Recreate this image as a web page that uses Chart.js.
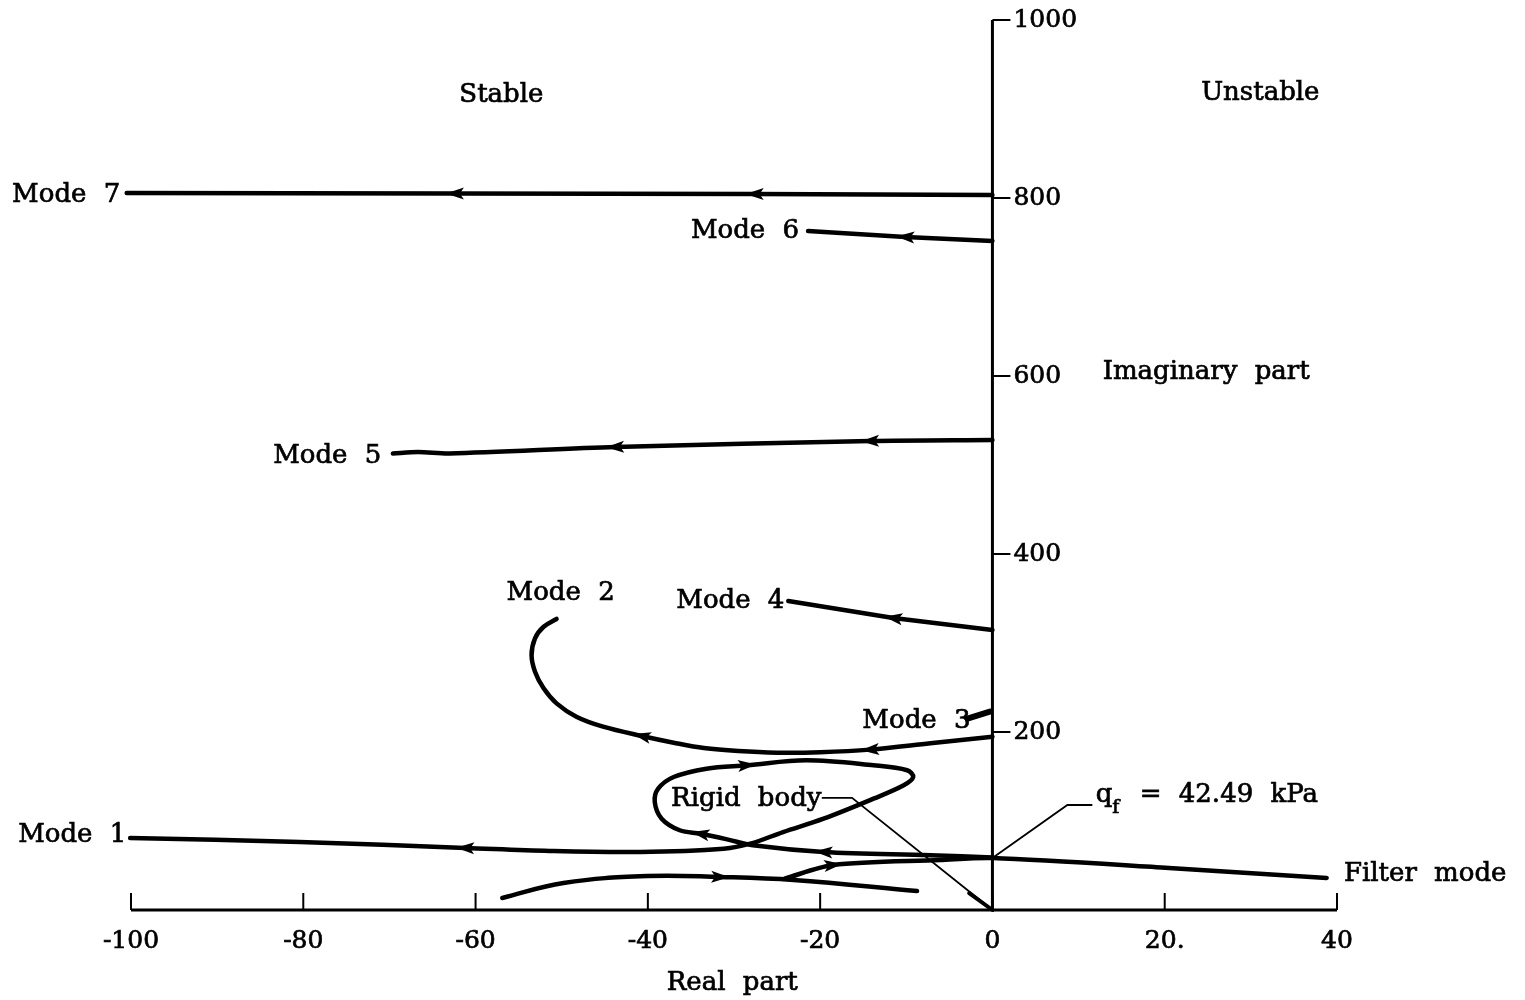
<!DOCTYPE html>
<html>
<head>
<meta charset="utf-8">
<script src="https://cdn.jsdelivr.net/npm/chart.js@4.4.1/dist/chart.umd.min.js"></script>
<style>
  html, body { margin: 0; padding: 0; background: #fff; }
  canvas { display: block; }
</style>
</head>
<body>
<canvas id="locus" width="1525" height="1000"></canvas>
<script>
// axis ticks
const xTicks = [-100, -80, -60, -40, -20, 0, 20, 40];
const xTickLabels = ['-100', '-80', '-60', '-40', '-20', '0', '20.', '40'];
const yTicks = [200, 400, 600, 800, 1000];
const yTickLabels = ['200', '400', '600', '800', '1000'];

// root loci, real part / imaginary part, ordered in the direction of travel
const mode7Re = [0, -27.6, -62.4, -100.5];
const mode7Im = [803.4, 804.5, 805.0, 805.6];
const mode6Re = [0, -10.1, -21.4];
const mode6Im = [751.7, 756.2, 762.9];
const mode5Re = [0, -14.2, -43.8, -63.0, -66.7, -69.6];
const mode5Im = [528.1, 527.0, 520.2, 513.0, 514.6, 512.8];
const mode4Re = [0, -11.5, -23.7];
const mode4Im = [314.6, 328.1, 347.2];
const mode3Re = [-0.3, -1.6, -2.9];
const mode3Im = [223, 219, 215];
const mode2Re = [0, -7.2, -14.2, -20.0, -25.0, -29.5, -33.5, -37.0, -40.7, -45.2, -48.3, -50.6, -52.1, -53.1, -53.5, -53.1, -52.1, -50.6];
const mode2Im = [194.7, 187.3, 180.2, 177.3, 176.8, 178.6, 182.0, 188.0, 195.5, 206.0, 217.2, 232.2, 249.1, 267.8, 286.5, 305.3, 318.3, 327.0];
const mode1Re = [0, -7.2, -19.6, -27.8, -30.8, -33.9, -36.3, -38.4, -39.2, -38.8, -37.0, -33.2, -28.5, -21.6,
                 -13.8, -9.9, -9.2, -10.3, -13.8, -19.6, -24.3, -28.1, -31.2, -40.9, -51.4, -61.2, -80.4, -100.1];
const mode1Im = [59.0, 61.5, 65.2, 72.7, 79.4, 85.7, 89.6, 102.6, 121.3, 136.3, 149.4, 158.8, 162.6, 168.2,
                 162.6, 157.0, 149.4, 140.1, 125.1, 102.6, 87.6, 74.5, 68.9, 65.2, 66.3, 69.7, 76.4, 80.9];
const lowRe = [-56.9, -49.8, -40.1, -31.6, -23.1, -8.75];
const lowIm = [13.5, 30.3, 38.2, 37.1, 33.7, 21.3];
const filterRe = [-24.2, -18.5, -6.1, 0, 20.5, 38.8];
const filterIm = [35.0, 50.6, 56.2, 58.4, 47.2, 36.0];
const rigidRe = [0, -2.7];
const rigidIm = [0, 19];

const FONT = '"DejaVu Serif", "Liberation Serif", serif';

function pts(re, im) {
    return re.map((r, i) => ({ x: r, y: im[i] }));
}

function locus(label, re, im, arrows, tension, width) {
    return {
        label: label,
        data: pts(re, im),
        showLine: true,
        borderColor: '#000',
        backgroundColor: '#000',
        borderWidth: width || 4.5,
        borderCapStyle: 'round',
        borderJoinStyle: 'round',
        pointRadius: 0,
        tension: tension || 0,
        clip: false,
        arrows: arrows
    };
}

// text placed in data units so it follows the scales
const notes = [
    { text: 'Stable', x: -57.0, y: 915, align: 'center' },
    { text: 'Unstable', x: 31.1, y: 918, align: 'center' },
    { text: 'Imaginary part', x: 12.8, y: 604, align: 'left' },
    { text: 'Real part', x: -30.2, y: -82, align: 'center' },
    { text: 'Mode 7', x: -113.8, y: 803, align: 'left' },
    { text: 'Mode 6', x: -35.0, y: 763, align: 'left' },
    { text: 'Mode 5', x: -83.5, y: 510, align: 'left' },
    { text: 'Mode 4', x: -36.7, y: 347, align: 'left' },
    { text: 'Mode 2', x: -56.4, y: 356, align: 'left' },
    { text: 'Mode 3', x: -15.1, y: 212, align: 'left' },
    { text: 'Rigid body', x: -37.3, y: 125, align: 'left' },
    { text: 'Mode 1', x: -113.1, y: 84, align: 'left' },
    { text: 'Filter mode', x: 40.8, y: 40, align: 'left' }
];

function inkText(c, s, x, y) {
    c.fillText(s, x, y);
    c.strokeText(s, x, y);
}

const axesPlugin = {
    id: 'axes',
    beforeDatasetsDraw(chart) {
        const c = chart.ctx, xs = chart.scales.x, ys = chart.scales.y;
        const x0 = xs.getPixelForValue(0), y0 = ys.getPixelForValue(0);
        c.save();
        c.strokeStyle = '#000';
        c.lineWidth = 3;
        c.beginPath();
        c.moveTo(xs.getPixelForValue(-100), y0);
        c.lineTo(xs.getPixelForValue(40), y0);
        c.moveTo(x0, y0);
        c.lineTo(x0, ys.getPixelForValue(1000));
        c.stroke();

        c.lineWidth = 2;
        c.beginPath();
        xTicks.forEach(v => {
            const px = xs.getPixelForValue(v);
            c.moveTo(px, y0);
            c.lineTo(px, y0 - 17);
        });
        yTicks.forEach(v => {
            const py = ys.getPixelForValue(v);
            c.moveTo(x0, py);
            c.lineTo(x0 + 18, py);
        });
        c.stroke();

        c.fillStyle = '#000';
        c.lineWidth = 0.7;
        c.font = '25px ' + FONT;
        c.textBaseline = 'middle';
        c.textAlign = 'center';
        xTicks.forEach((v, i) => inkText(c, xTickLabels[i], xs.getPixelForValue(v), y0 + 31));
        c.textAlign = 'left';
        yTicks.forEach((v, i) => inkText(c, yTickLabels[i], x0 + 21, ys.getPixelForValue(v)));
        c.restore();
    },
    afterDatasetsDraw(chart) {
        const c = chart.ctx, xs = chart.scales.x, ys = chart.scales.y;
        const X = v => xs.getPixelForValue(v), Y = v => ys.getPixelForValue(v);
        c.save();
        c.fillStyle = '#000';
        c.strokeStyle = '#000';

        // arrowheads along the loci
        chart.data.datasets.forEach((ds, i) => {
            if (!ds.arrows) return;
            const els = chart.getDatasetMeta(i).data;
            ds.arrows.forEach(k => {
                const p = els[k], a = els[k - 1], b = els[k + 1];
                let dx = b.x - a.x, dy = b.y - a.y;
                const len = Math.hypot(dx, dy);
                dx /= len; dy /= len;
                c.beginPath();
                c.moveTo(p.x + dx * 9, p.y + dy * 9);
                c.lineTo(p.x - dx * 9 - dy * 6, p.y - dy * 9 + dx * 6);
                c.lineTo(p.x - dx * 5, p.y - dy * 5);
                c.lineTo(p.x - dx * 9 + dy * 6, p.y - dy * 9 - dx * 6);
                c.closePath();
                c.fill();
            });
        });

        // leader lines
        c.lineWidth = 1.8;
        c.beginPath();
        c.moveTo(X(-19.8), Y(126));
        c.lineTo(X(-16.3), Y(126));
        c.lineTo(X(0), Y(0));
        c.moveTo(X(0), Y(58.4));
        c.lineTo(X(8.7), Y(118));
        c.lineTo(X(11.6), Y(118));
        c.stroke();

        // labels
        c.lineWidth = 0.7;
        c.font = '26px ' + FONT;
        c.textBaseline = 'middle';
        c.wordSpacing = '9px';
        notes.forEach(n => {
            c.textAlign = n.align;
            inkText(c, n.text, X(n.x), Y(n.y));
        });

        // flutter dynamic pressure label with subscript
        c.textAlign = 'left';
        inkText(c, 'q', X(12.0), Y(129));
        c.font = '19px ' + FONT;
        inkText(c, 'f', X(13.9), Y(114));
        c.font = '26px ' + FONT;
        inkText(c, '= 42.49 kPa', X(17.1), Y(129));
        c.restore();
    }
};

const ctx = document.getElementById('locus').getContext('2d');
new Chart(ctx, {
    type: 'scatter',
    data: {
        datasets: [
            locus('Mode 7', mode7Re, mode7Im, [1, 2]),
            locus('Mode 6', mode6Re, mode6Im, [1]),
            locus('Mode 5', mode5Re, mode5Im, [1, 2], 0.3),
            locus('Mode 4', mode4Re, mode4Im, [1]),
            locus('Mode 3', mode3Re, mode3Im, null, 0, 6),
            locus('Mode 2', mode2Re, mode2Im, [2, 8], 0.35),
            locus('Mode 1', mode1Re, mode1Im, [2, 5, 12, 25], 0.35),
            locus('Filter low', lowRe, lowIm, [3], 0.4),
            locus('Filter mode', filterRe, filterIm, [1], 0.3),
            locus('Rigid body', rigidRe, rigidIm, null, 0, 4)
        ]
    },
    options: {
        responsive: false,
        devicePixelRatio: 1,
        animation: false,
        layout: { padding: { left: 131, right: 188, top: 20, bottom: 90 } },
        scales: {
            x: { type: 'linear', min: -100, max: 40, display: false },
            y: { type: 'linear', min: 0, max: 1000, display: false }
        },
        plugins: {
            legend: { display: false },
            tooltip: { enabled: false }
        }
    },
    plugins: [axesPlugin]
});
</script>
</body>
</html>
